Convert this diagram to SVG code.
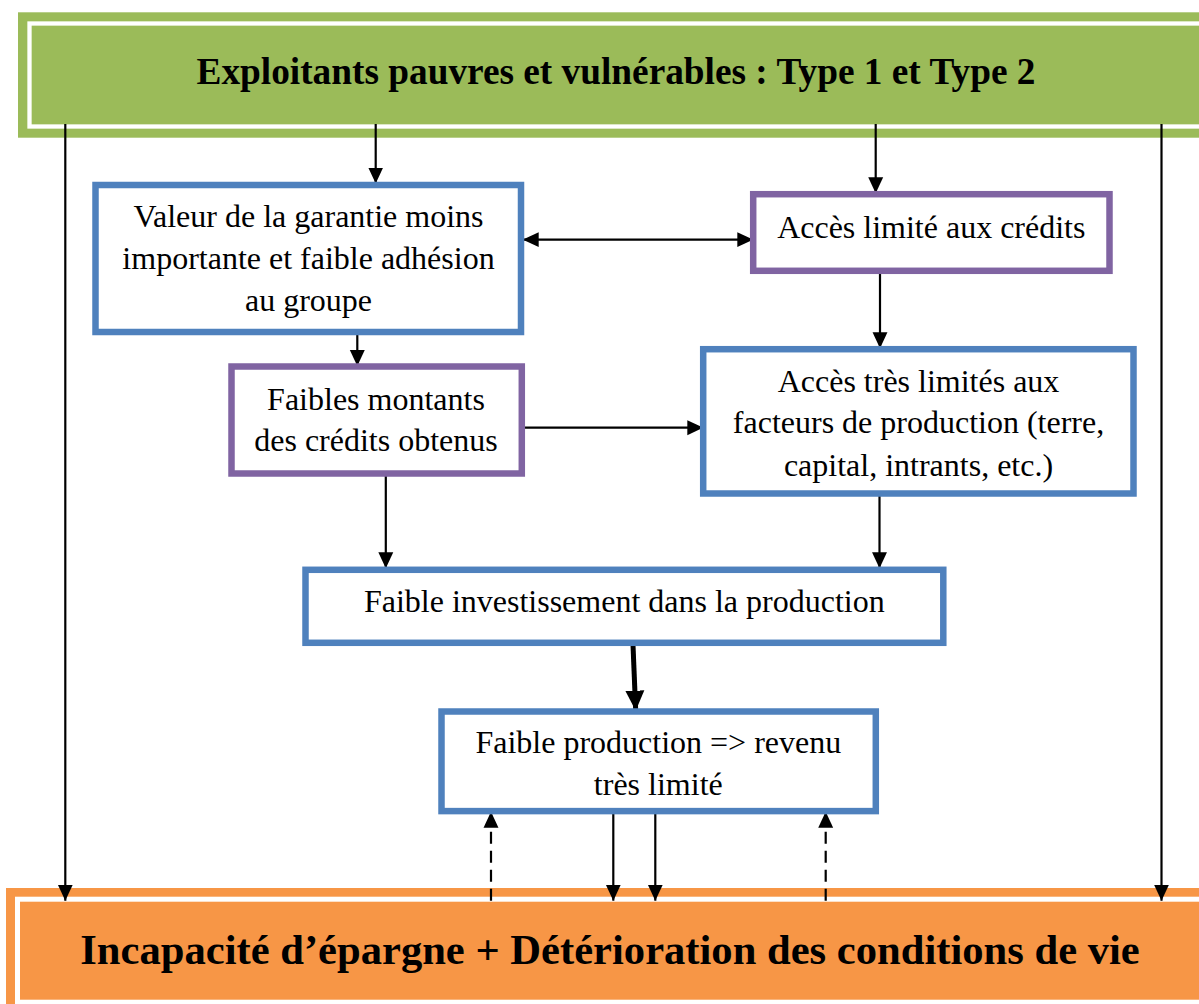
<svg xmlns="http://www.w3.org/2000/svg" width="1199" height="1004" viewBox="0 0 1199 1004">
  <style>
    .box { fill: #FFFFFF; stroke-width: 6.5; }
    .blue { stroke: #4F81BD; }
    .purple { stroke: #8064A2; }
    .txt { font-family: "Liberation Serif", "Times New Roman", serif; font-size: 32px; fill: #000000; text-anchor: middle; }
    .title { font-family: "Liberation Serif", "Times New Roman", serif; font-weight: bold; fill: #000000; text-anchor: middle; }
    .conn { stroke: #000000; stroke-width: 2.2; fill: none; }
    .dash { stroke-dasharray: 12 7; }
  </style>
  <defs>
    <marker id="arr" markerUnits="userSpaceOnUse" markerWidth="16" markerHeight="16" viewBox="0 0 15 14" refX="15" refY="7" orient="auto-start-reverse">
      <path d="M0,0 L15,7 L0,14 Z" fill="#000000"/>
    </marker>
    <marker id="arrBig" markerUnits="userSpaceOnUse" markerWidth="20" markerHeight="20" viewBox="0 0 19 18" refX="19" refY="9" orient="auto">
      <path d="M0,0 L19,9 L0,18 Z" fill="#000000"/>
    </marker>
  </defs>

  <rect width="1199" height="1004" fill="#FFFFFF"/>

  <g id="top-banner">
    <rect x="18" y="12.3" width="1250" height="125.4" fill="#9BBB59"/>
    <rect x="29.5" y="23.5" width="1250" height="103" fill="none" stroke="#FFFFFF" stroke-width="4.3"/>
    <text class="title" x="616" y="83.5" font-size="37.3">Exploitants pauvres et vulnérables : Type 1 et Type 2</text>
  </g>

  <g id="bottom-banner">
    <rect x="6" y="888" width="1250" height="200" fill="#F79646"/>
    <rect x="17.5" y="899.2" width="1250" height="103" fill="none" stroke="#FFFFFF" stroke-width="5"/>
    <text class="title" x="610" y="964" font-size="42.6">Incapacité d’épargne + Détérioration des conditions de vie</text>
  </g>

  <g id="connectors">
    <line class="conn" x1="65.3" y1="124" x2="65.3" y2="900.7" marker-end="url(#arr)"/>
    <line class="conn" x1="1161.5" y1="124" x2="1161.5" y2="900.7" marker-end="url(#arr)"/>
    <line class="conn" x1="375.7" y1="124" x2="375.7" y2="183.5" marker-end="url(#arr)"/>
    <line class="conn" x1="875.7" y1="124" x2="875.7" y2="193.3" marker-end="url(#arr)"/>
    <line class="conn" x1="522.7" y1="239.6" x2="753.3" y2="239.6" marker-start="url(#arr)" marker-end="url(#arr)"/>
    <line class="conn" x1="357.3" y1="335" x2="357.3" y2="366" marker-end="url(#arr)"/>
    <line class="conn" x1="880" y1="271" x2="880" y2="348.3" marker-end="url(#arr)"/>
    <line class="conn" x1="521.7" y1="427.7" x2="703.3" y2="427.7" marker-end="url(#arr)"/>
    <line class="conn" x1="385.8" y1="473.5" x2="385.8" y2="568.3" marker-end="url(#arr)"/>
    <line class="conn" x1="879.5" y1="493.5" x2="879.5" y2="568.3" marker-end="url(#arr)"/>
    <line x1="633" y1="645" x2="635.7" y2="710.7" stroke="#000000" stroke-width="5" marker-end="url(#arrBig)"/>
    <line class="conn" x1="613.3" y1="812" x2="613.3" y2="900.7" marker-end="url(#arr)"/>
    <line class="conn" x1="655.3" y1="812" x2="655.3" y2="900.7" marker-end="url(#arr)"/>
    <line class="conn dash" x1="491" y1="900.7" x2="491" y2="811.7" marker-end="url(#arr)"/>
    <line class="conn dash" x1="825.7" y1="900.7" x2="825.7" y2="811.7" marker-end="url(#arr)"/>
  </g>

  <g id="node-garantie">
    <rect class="box blue" x="95.5" y="185" width="425.5" height="147"/>
    <text class="txt" x="308.5" y="227">Valeur de la garantie moins</text>
    <text class="txt" x="308.5" y="268.5">importante et faible adhésion</text>
    <text class="txt" x="308.5" y="310.5">au groupe</text>
  </g>

  <g id="node-acces-credits">
    <rect class="box purple" x="753.2" y="194.2" width="356.3" height="76.6"/>
    <text class="txt" x="931.3" y="238.3">Accès limité aux crédits</text>
  </g>

  <g id="node-faibles-montants">
    <rect class="box purple" x="231.5" y="366.5" width="290.3" height="107"/>
    <text class="txt" x="376" y="410">Faibles montants</text>
    <text class="txt" x="376" y="450.7">des crédits obtenus</text>
  </g>

  <g id="node-facteurs">
    <rect class="box blue" x="703.2" y="349.2" width="430.3" height="144.3"/>
    <text class="txt" x="918.5" y="391.7">Accès très limités aux</text>
    <text class="txt" x="918.5" y="433.3">facteurs de production (terre,</text>
    <text class="txt" x="918.5" y="475.7">capital, intrants, etc.)</text>
  </g>

  <g id="node-investissement">
    <rect class="box blue" x="305.5" y="569.8" width="637.8" height="73"/>
    <text class="txt" x="624.3" y="612.3">Faible investissement dans la production</text>
  </g>

  <g id="node-production">
    <rect class="box blue" x="441.5" y="711.5" width="434.3" height="99.6"/>
    <text class="txt" x="658.3" y="753.3">Faible production =&gt; revenu</text>
    <text class="txt" x="658.3" y="795">très limité</text>
  </g>
</svg>
